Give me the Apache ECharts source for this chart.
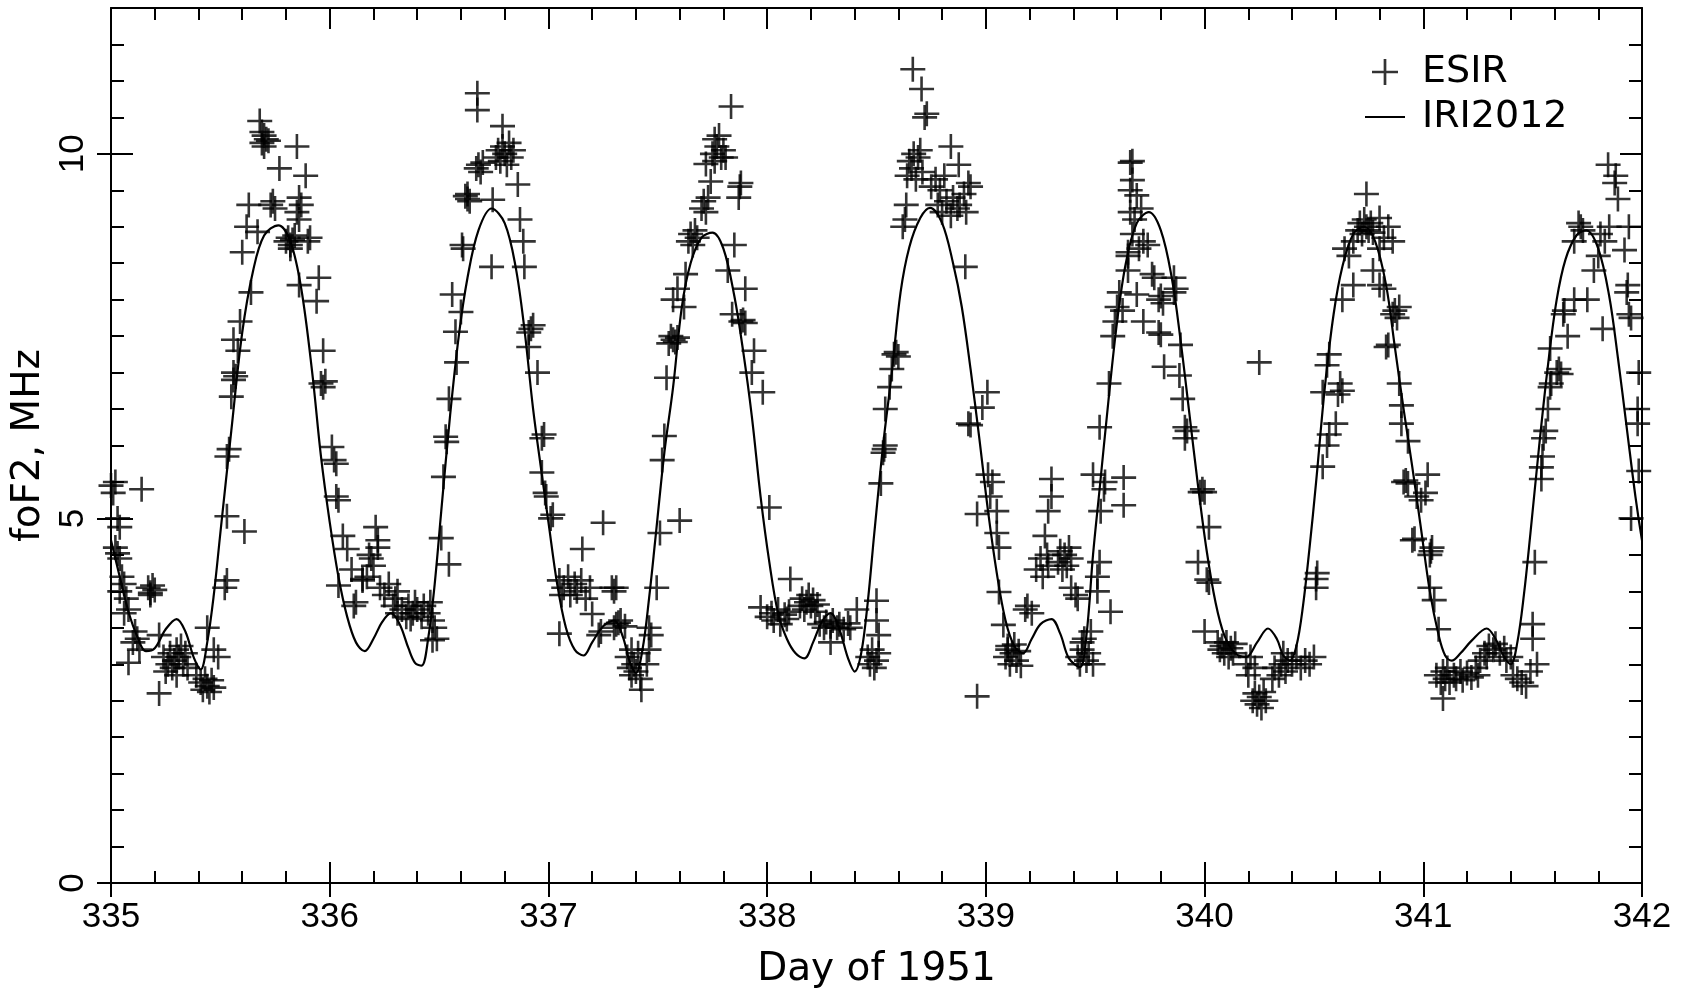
<!DOCTYPE html>
<html>
<head>
<meta charset="utf-8">
<title>foF2, ESIR and IRI2012</title>
<script src="https://cdn.jsdelivr.net/npm/echarts@6.0.0/dist/echarts.min.js"></script>
<style>
  html, body { margin: 0; padding: 0; background: #fff; }
  #main { width: 1692px; height: 990px; }
</style>
</head>
<body>
<div id="main"></div>
<script>
// ESIR foF2 observations, [day of 1951, MHz], one array per day
var esir335 = [
  [335.00,5.45],[335.01,5.35],[335.02,5.50],[335.14,5.40],
  [335.03,5.00],[335.04,4.88],[335.02,4.60],[335.03,4.52],[335.04,4.45],
  [335.05,4.20],[335.06,4.10],[335.04,4.00],[335.07,3.90],[335.08,3.75],[335.06,3.70],
  [335.17,4.05],[335.18,3.98],[335.19,4.08],[335.18,3.95],[335.20,4.02],
  [335.11,3.45],[335.12,3.35],[335.10,3.30],[335.08,3.02],[335.13,3.20],[335.22,3.40],
  [335.24,3.10],[335.26,3.00],[335.27,3.15],[335.28,2.95],[335.29,3.05],[335.30,3.20],
  [335.31,3.10],[335.32,3.25],[335.33,3.00],[335.34,3.15],[335.35,2.95],[335.25,2.90],[335.30,2.85],
  [335.22,2.60],[335.44,3.50],[335.49,3.10],[335.47,3.20],
  [335.41,2.75],[335.42,2.65],[335.43,2.80],[335.44,2.70],[335.45,2.62],[335.46,2.78],[335.47,2.68],[335.39,2.85],
  [335.52,4.05],[335.53,4.15],[335.53,5.03],[335.61,4.82],[335.53,5.85],[335.54,5.95],
  [335.55,6.67],[335.56,6.90],[335.56,7.00],[335.57,6.95],[335.58,7.30],[335.56,7.45],[335.59,7.70],
  [335.64,8.10],[335.60,8.65],[335.62,9.00],[335.63,9.30],[335.67,8.93],
  [335.69,10.15],[335.70,10.25],[335.71,10.20],[335.70,10.10],[335.72,10.18],[335.69,10.30],[335.68,10.45],
  [335.77,9.80],[335.85,10.10],[335.89,9.70],[335.73,9.30],[335.74,9.35],[335.75,9.25],
  [335.85,9.20],[335.86,9.40],[335.87,9.30],[335.86,9.10],
  [335.80,8.80],[335.81,8.85],[335.82,8.75],[335.83,8.82],[335.84,8.88],[335.82,8.70],
  [335.90,8.80],[335.91,8.85],[335.86,8.20],[335.95,8.30],[335.94,7.98],[335.97,7.30],
  [335.96,6.85],[335.97,6.80],[335.98,6.88],[336.01,5.98],[336.02,5.80],[336.03,5.75],[336.03,5.30],[336.04,5.25]
];
var esir336 = [
  [336.06,4.76],[336.08,4.58],[336.04,4.08],[336.10,4.30],[336.15,4.15],[336.11,3.80],[336.12,3.85],[336.18,4.50],
  [336.21,4.88],[336.22,4.70],[336.22,4.60],[336.19,4.45],[336.20,4.35],[336.15,4.17],[336.17,4.20],
  [336.23,4.05],[336.25,3.95],[336.27,4.10],[336.30,3.90],[336.31,4.00],
  [336.29,3.80],[336.31,3.70],[336.33,3.75],[336.35,3.65],[336.36,3.80],[336.38,3.70],[336.39,3.85],
  [336.40,3.75],[336.42,3.65],[336.43,3.80],[336.45,3.70],[336.46,3.85],[336.47,3.60],[336.37,3.62],
  [336.47,3.33],[336.49,3.35],[336.48,3.50],
  [336.51,4.73],[336.545,4.37],[336.52,5.57],[336.53,6.12],[336.535,6.05],[336.545,6.64],[336.58,7.14],
  [336.575,7.56],[336.60,7.83],[336.56,8.07],[336.605,8.75],[336.61,8.70],
  [336.63,9.38],[336.62,9.42],[336.64,9.35],[336.63,9.45],[336.67,9.80],[336.68,9.85],[336.69,9.75],[336.70,9.88],
  [336.675,10.83],[336.675,10.60],[336.74,8.45],[336.745,9.37],
  [336.76,9.95],[336.77,10.05],[336.78,9.90],[336.79,10.10],[336.80,10.00],[336.81,9.85],[336.82,10.15],
  [336.83,9.95],[336.84,10.05],[336.79,10.38],
  [336.86,9.58],[336.87,9.10],[336.885,8.80],[336.89,8.45],
  [336.92,7.60],[336.93,7.65],[336.91,7.55],[336.91,7.35],[336.95,7.00],
  [336.97,6.10],[336.98,6.15],[336.97,5.63],[336.985,5.35],[336.99,5.30]
];
var esir337 = [
  [337.01,5.00],[337.02,5.05],[337.25,4.94],[337.155,4.58],
  [337.05,4.15],[337.07,4.05],[337.09,4.20],[337.10,3.95],[337.12,4.10],[337.13,4.00],[337.15,4.15],
  [337.17,3.90],[337.19,4.05],[337.06,3.95],
  [337.05,3.42],[337.20,3.69],[337.23,3.40],[337.24,3.45],[337.29,4.05],[337.32,3.57],
  [337.30,3.50],[337.31,3.55],[337.33,3.60],[337.35,3.52],[337.30,4.00],[337.31,4.05],
  [337.36,3.10],[337.37,2.95],[337.38,2.85],[337.39,3.00],[337.40,2.90],[337.41,3.15],[337.42,2.80],[337.38,3.20],
  [337.425,2.65],[337.45,3.00],[337.46,3.20],[337.47,3.40],[337.46,3.50],
  [337.495,4.05],[337.51,4.80],[337.60,4.97],[337.52,5.80],[337.53,6.13],[337.54,6.93],
  [337.55,7.40],[337.56,7.50],[337.57,7.45],[337.58,7.42],[337.59,7.48],
  [337.57,8.00],[337.59,8.15],[337.62,7.90],[337.627,8.35],
  [337.64,8.80],[337.65,8.90],[337.66,8.75],[337.67,8.95],[337.68,8.85],
  [337.70,9.25],[337.71,9.35],[337.72,9.20],[337.73,9.40],[337.72,9.86],[337.742,9.62],
  [337.75,10.00],[337.76,10.20],[337.77,10.10],[337.78,10.25],[337.79,9.95],[337.80,10.05],[337.76,9.90],
  [337.835,10.65],[337.81,9.95],[337.87,9.40],[337.875,9.55],[337.88,9.60],
  [337.85,8.75],[337.82,8.40],[337.90,8.15],[337.84,7.80],[337.88,7.70],[337.89,7.72],[337.90,7.68],
  [337.94,7.30],[337.93,7.00],[337.98,6.73]
];
var esir338 = [
  [338.01,5.15],[338.106,4.17],[337.97,3.78],
  [338.00,3.65],[338.02,3.70],[338.03,3.60],[338.05,3.75],[338.06,3.55],[338.08,3.68],[338.09,3.62],[338.10,3.72],
  [338.15,3.80],[338.16,3.90],[338.17,3.75],[338.18,3.85],[338.19,3.95],[338.20,3.80],[338.21,3.88],[338.22,3.72],[338.23,3.82],
  [338.24,3.55],[338.26,3.50],[338.27,3.58],[338.29,3.52],[338.30,3.60],[338.32,3.50],[338.33,3.55],
  [338.35,3.48],[338.37,3.56],[338.38,3.50],[338.41,3.75],[338.29,3.30],
  [338.46,3.10],[338.47,3.00],[338.48,3.20],[338.49,2.95],[338.50,3.05],[338.51,3.15],
  [338.50,3.87],[338.50,3.60],[338.51,3.40],
  [338.52,5.48],[338.535,5.95],[338.54,6.00],[338.53,5.90],[338.54,6.50],[338.56,6.80],[338.57,7.05],
  [338.58,7.25],[338.59,7.28],[338.60,7.22],
  [338.62,9.00],[338.63,9.10],[338.636,9.30],
  [338.64,9.70],[338.65,9.90],[338.66,9.80],[338.67,10.00],[338.68,9.65],[338.69,9.95],[338.70,10.05],[338.71,9.75],
  [338.666,11.16],[338.706,10.89],[338.72,10.50],[338.73,10.55],[338.84,10.10],[338.876,9.85],
  [338.75,9.55],[338.77,9.65],[338.79,9.50],[338.81,9.70],[338.92,9.60],[338.93,9.55],
  [338.78,9.30],[338.80,9.20],[338.82,9.35],[338.84,9.15],[338.85,9.40],[338.87,9.25],[338.88,9.30],[338.90,9.45],[338.91,9.20],
  [338.906,8.45],[339.007,6.73],[338.984,6.52],[338.92,6.30],[338.93,6.28],[338.96,5.06],[338.96,2.56]
];
var esir339 = [
  [339.02,5.30],[339.03,5.50],[339.01,5.60],[339.05,5.10],[339.05,4.80],[339.06,4.60],[339.06,3.99],[339.08,3.54],
  [339.09,3.10],[339.10,3.20],[339.11,3.00],[339.12,3.15],[339.13,3.27],[339.14,3.05],[339.15,3.18],[339.16,2.98],[339.10,3.25],
  [339.18,3.75],[339.19,3.80],[339.21,3.70],
  [339.30,5.54],[339.30,5.30],[339.285,5.10],[339.27,4.76],
  [339.23,4.30],[339.25,4.45],[339.26,4.20],[339.28,4.50],[339.285,4.35],
  [339.33,4.40],[339.34,4.55],[339.35,4.30],[339.36,4.50],[339.37,4.35],[339.38,4.60],[339.39,4.45],
  [339.39,4.05],[339.41,3.95],[339.42,3.90],
  [339.42,3.10],[339.43,3.00],[339.44,3.20],[339.45,3.35],[339.46,3.05],[339.47,3.15],[339.48,3.45],[339.49,3.00],[339.44,3.30],
  [339.51,4.00],[339.51,4.20],[339.52,4.40],[339.57,3.72],
  [339.525,5.10],[339.54,5.40],[339.545,5.50],[339.63,5.56],[339.63,5.18],[339.49,5.60],
  [339.52,6.25],[339.563,6.85],
  [339.58,7.50],[339.59,7.70],[339.60,7.90],[339.61,8.10],[339.625,7.85],
  [339.65,8.40],[339.65,8.65],[339.66,9.20],[339.66,9.50],[339.67,9.90],[339.66,9.88],[339.67,9.64],[339.69,9.43],
  [339.65,8.60],[339.67,8.90],[339.68,9.10],[339.70,8.70],[339.71,9.25],[339.72,8.80],
  [339.74,8.75],[339.76,8.35],[339.77,8.30],[339.79,8.00],[339.80,8.05],[339.81,7.95],
  [339.86,8.30],[339.86,8.10],[339.87,8.15],[339.69,8.07],[339.72,7.70],
  [339.79,7.55],[339.80,7.52],[339.815,7.08],[339.89,7.38],[339.885,6.96],[339.90,6.64],
  [339.91,6.10],[339.92,6.20],[339.91,6.25],[339.98,5.36],[339.99,5.40]
];
var esir340 = [
  [340.00,5.36],[340.02,4.88],[339.97,4.40],[340.01,4.16],[340.02,4.12],[340.00,3.45],
  [340.06,3.30],[340.07,3.20],[340.08,3.25],[340.09,3.15],[340.10,3.30],[340.11,3.10],[340.12,3.22],[340.13,3.15],[340.14,3.28],
  [340.19,3.00],[340.20,2.85],[340.21,3.10],[340.23,2.95],
  [340.22,2.50],[340.23,2.60],[340.24,2.45],[340.25,2.55],[340.26,2.40],[340.27,2.62],[340.28,2.50],
  [340.31,2.80],[340.32,2.95],[340.34,2.85],[340.35,3.00],[340.37,2.90],
  [340.38,3.05],[340.40,3.00],[340.42,3.10],[340.44,2.95],[340.46,3.05],[340.48,3.00],[340.50,3.10],[340.36,3.15],
  [340.25,7.14],
  [340.51,4.17],[340.515,4.25],[340.51,4.05],
  [340.54,5.71],[340.56,6.00],[340.57,6.15],[340.54,6.73],
  [340.61,6.70],[340.62,6.85],[340.63,6.75],[340.56,7.10],[340.57,7.25],[340.60,6.30],
  [340.63,8.00],[340.68,8.20],[340.64,8.70],[340.66,8.60],[340.68,8.80],
  [340.70,8.95],[340.71,9.05],[340.72,8.90],[340.73,9.10],[340.74,9.00],[340.75,8.95],[340.76,9.05],[340.77,8.92],
  [340.74,9.45],[340.80,9.12],[340.77,8.40],[340.82,8.15],[340.83,7.35],
  [340.80,8.70],[340.82,8.85],[340.84,9.00],[340.86,8.80],
  [340.86,7.80],[340.87,7.85],[340.88,7.75],[340.89,7.90],[340.84,7.38],[340.80,8.20],
  [340.89,6.85],[340.90,6.30],[340.90,6.55],[340.93,6.06],
  [340.91,5.50],[340.92,5.52],[340.93,5.48],[340.97,5.30],[340.99,5.25],[341.01,5.35],[341.02,5.60],
  [340.95,4.70],[340.96,4.72]
];
var esir341 = [
  [341.03,4.50],[341.04,4.60],[341.035,4.55],[341.03,4.05],[341.05,3.88],[341.07,3.48],
  [341.06,2.85],[341.08,2.75],[341.09,2.90],[341.10,2.80],[341.11,2.95],[341.12,2.75],[341.14,2.85],[341.15,2.80],
  [341.17,2.90],[341.18,2.78],[341.20,2.88],[341.22,2.82],[341.24,2.95],[341.25,2.85],[341.09,2.53],
  [341.26,3.05],[341.28,3.15],[341.29,3.10],[341.30,3.25],[341.32,3.20],[341.33,3.28],[341.35,3.15],[341.37,3.22],
  [341.38,3.05],[341.40,3.10],
  [341.41,2.85],[341.43,2.80],[341.45,2.75],[341.47,2.70],[341.49,2.90],
  [341.50,3.35],[341.50,3.55],[341.52,3.00],[341.51,4.40],
  [341.54,5.54],[341.54,5.70],[341.545,5.85],[341.55,6.10],[341.56,6.20],[341.57,6.50],[341.58,6.80],[341.585,6.85],
  [341.61,7.00],[341.62,7.05],[341.63,6.98],[341.58,7.33],[341.66,7.50],[341.64,7.80],[341.645,7.85],
  [341.69,8.00],[341.75,8.00],[341.82,7.60],
  [341.72,9.00],[341.71,9.05],[341.73,8.95],[341.69,8.80],[341.78,8.40],[341.80,8.60],[341.81,8.90],[341.83,8.80],[341.85,9.00],
  [341.845,9.85],[341.875,9.60],[341.88,9.70],[341.89,9.38],
  [341.92,8.68],[341.94,9.00],[341.93,8.10],[341.935,8.20],[341.94,7.80],[341.95,7.75],
  [341.985,7.00],[341.98,6.30],[341.98,6.50],[341.985,5.65],[341.95,5.00]
];

// IRI2012 model curve, [day of 1951, MHz]
var iri335 = [
  [335.00,4.70],[335.04,4.20],[335.08,3.72],[335.12,3.38],[335.16,3.18],[335.20,3.22],[335.25,3.48],
  [335.30,3.62],[335.34,3.45],[335.38,3.08],[335.41,2.93],[335.44,3.30],[335.47,3.95],[335.50,4.80],
  [335.55,6.20],[335.60,7.55],[335.65,8.40],[335.70,8.88],[335.765,9.02],[335.82,8.80],[335.87,8.15],
  [335.92,7.00],[335.96,5.85],[336.00,4.95],[336.04,4.20],[336.08,3.65],[336.12,3.30]
];
var iri336 = [
  [336.16,3.18],[336.20,3.35],[336.24,3.58],[336.28,3.70],[336.32,3.55],[336.36,3.22],[336.39,3.02],
  [336.42,2.98],[336.45,3.35],[336.48,4.10],[336.51,5.10],[336.55,6.40],[336.59,7.50],[336.63,8.30],
  [336.68,8.95],[336.74,9.25],[336.80,9.05],[336.85,8.45],[336.89,7.60],[336.93,6.50],[336.97,5.60],
  [337.00,4.95],[337.04,4.10],[337.08,3.50],[337.12,3.20]
];
var iri337 = [
  [337.16,3.12],[337.20,3.30],[337.25,3.52],[337.30,3.60],[337.34,3.38],[337.37,3.05],[337.40,2.88],
  [337.43,3.20],[337.46,3.90],[337.49,4.75],[337.53,5.90],[337.57,6.80],[337.61,7.90],[337.65,8.50],
  [337.70,8.85],[337.75,8.92],[337.80,8.70],[337.85,8.05],[337.89,7.30],[337.93,6.40],[337.97,5.30],
  [338.01,4.40],[338.05,3.70],[338.09,3.35],[338.13,3.15]
];
var iri338 = [
  [338.17,3.08],[338.21,3.30],[338.25,3.58],[338.29,3.70],[338.33,3.48],[338.37,3.08],[338.40,2.90],
  [338.43,3.15],[338.46,3.85],[338.49,4.80],[338.53,6.00],[338.57,7.00],[338.61,8.10],[338.65,8.72],
  [338.70,9.12],[338.745,9.26],[338.80,9.05],[338.85,8.50],[338.89,7.90],[338.93,7.05],[338.97,6.10],
  [339.01,5.10],[339.05,4.25],[339.09,3.60],[339.13,3.25]
];
var iri339 = [
  [339.17,3.15],[339.21,3.35],[339.25,3.55],[339.30,3.62],[339.34,3.42],[339.38,3.08],[339.43,2.96],
  [339.46,3.40],[339.49,4.50],[339.52,5.40],[339.56,6.60],[339.60,7.70],[339.64,8.50],[339.69,9.05],
  [339.745,9.20],[339.80,8.95],[339.85,8.30],[339.89,7.45],[339.93,6.45],[339.97,5.45],[340.01,4.55],
  [340.05,3.85],[340.09,3.40],[340.14,3.15]
];
var iri340 = [
  [340.19,3.10],[340.24,3.30],[340.29,3.49],[340.33,3.35],[340.36,3.12],[340.39,3.05],[340.42,3.25],
  [340.45,3.80],[340.48,4.60],[340.51,5.50],[340.55,6.80],[340.59,7.80],[340.63,8.45],[340.68,8.90],
  [340.73,9.00],[340.78,8.80],[340.83,8.20],[340.87,7.35],[340.91,6.50],[340.95,5.70],[340.99,4.85],
  [341.03,4.00],[341.07,3.40],[341.10,3.12]
];
var iri341 = [
  [341.13,3.05],[341.17,3.15],[341.22,3.32],[341.29,3.49],[341.33,3.35],[341.37,3.10],[341.40,3.00],
  [341.43,3.30],[341.46,3.95],[341.49,4.80],[341.53,6.00],[341.57,7.10],[341.61,8.00],[341.65,8.55],
  [341.70,8.88],[341.745,8.95],[341.80,8.70],[341.85,8.05],[341.89,7.20],[341.93,6.25],[341.97,5.30],
  [342.00,4.70]
];

// tick labels
var dayTicks = [335, 336, 337, 338, 339, 340, 341, 342];
var valueTicks = [0, 5, 10];

var esirData = esir335.concat(esir336, esir337, esir338, esir339, esir340, esir341);
var iriData = iri335.concat(iri336, iri337, iri338, iri339, iri340, iri341);

// plus marker and plain dash for the legend
var plusPath = 'path://M11.2,0h2.6v11.2h11.2v2.6h-11.2v11.2h-2.6v-11.2h-11.2v-2.6h11.2z';
var dashPath = 'path://M0,0h40v2h-40z';
var black = '#000';
var tickFont = 'Liberation Sans';
var nameFont = 'DejaVu Sans';

function yAx(pos, interval, len, inside, extra) {
  var ax = {
    type: 'value', position: pos, min: 0, max: 12, interval: interval,
    splitLine: {show: false},
    axisLine: {show: false},
    axisLabel: {show: false},
    axisTick: {show: true, inside: inside, length: len, lineStyle: {color: black, width: 2}}
  };
  if (interval === 5) {
    ax.axisTick.customValues = valueTicks;
  }
  for (var k in extra) ax[k] = extra[k];
  return ax;
}

function xAx(pos, len, inside, extra) {
  var ax = {
    type: 'value', position: pos, min: 335, max: 342, interval: 1,
    splitLine: {show: false},
    axisLine: {show: false},
    axisLabel: {show: false},
    axisTick: {show: true, inside: inside, length: len, lineStyle: {color: black, width: 2}}
  };
  for (var k in extra) ax[k] = extra[k];
  return ax;
}

var myChart = echarts.init(document.getElementById('main'));

myChart.setOption({
  animation: false,
  backgroundColor: '#fff',
  grid: {left: 111, right: 50, top: 8, bottom: 107, containLabel: false, outerBoundsMode: 'none'},
  legend: {
    orient: 'vertical',
    left: 1360,
    top: 48,
    itemWidth: 40,
    itemHeight: 26,
    itemGap: 7,
    textStyle: {fontFamily: nameFont, fontSize: 38, color: black, lineHeight: 38, padding: [0, 0, 0, 12]},
    data: [
      {name: 'ESIR'},
      {name: 'IRI2012', icon: dashPath}
    ]
  },
  xAxis: [
    xAx('bottom', 21, true, {
      axisLine: {show: true, onZero: false, lineStyle: {color: black, width: 2}},
      minorTick: {show: true, splitNumber: 5, length: 12, lineStyle: {color: black, width: 2}},
      axisLabel: {
        show: true, customValues: dayTicks, margin: 17,
        fontFamily: tickFont, fontSize: 35, color: black
      },
      name: 'Day of 1951',
      nameLocation: 'middle',
      nameGap: 67,
      nameTextStyle: {fontFamily: nameFont, fontSize: 39, color: black}
    }),
    xAx('bottom', 14, false, {}),
    xAx('top', 21, true, {
      axisLine: {show: true, onZero: false, lineStyle: {color: black, width: 2}},
      minorTick: {show: true, splitNumber: 5, length: 12, lineStyle: {color: black, width: 2}}
    })
  ],
  yAxis: [
    yAx('left', 0.5, 13, true, {
      axisLine: {show: true, onZero: false, lineStyle: {color: black, width: 2}},
      axisLabel: {
        show: true, rotate: 90, margin: 20, customValues: valueTicks,
        fontFamily: tickFont, fontSize: 35, color: black,
        formatter: function (v) {
          return valueTicks.indexOf(v) >= 0 ? String(v) : '';
        }
      },
      name: 'foF2, MHz',
      nameLocation: 'middle',
      nameGap: 50,
      nameTextStyle: {fontFamily: nameFont, fontSize: 39, color: black}
    }),
    yAx('left', 5, 22, true, {}),
    yAx('left', 5, 14, false, {}),
    yAx('right', 0.5, 13, true, {
      axisLine: {show: true, onZero: false, lineStyle: {color: black, width: 2}}
    }),
    yAx('right', 5, 22, true, {})
  ],
  series: [
    {
      name: 'ESIR',
      type: 'scatter',
      xAxisIndex: 0,
      yAxisIndex: 0,
      symbol: plusPath,
      symbolSize: 25,
      itemStyle: {color: black},
      data: esirData
    },
    {
      name: 'IRI2012',
      type: 'line',
      xAxisIndex: 0,
      yAxisIndex: 0,
      symbol: 'none',
      showSymbol: false,
      smooth: 0.35,
      lineStyle: {color: black, width: 2.2},
      itemStyle: {color: black},
      data: iriData
    }
  ]
});
</script>
</body>
</html>
